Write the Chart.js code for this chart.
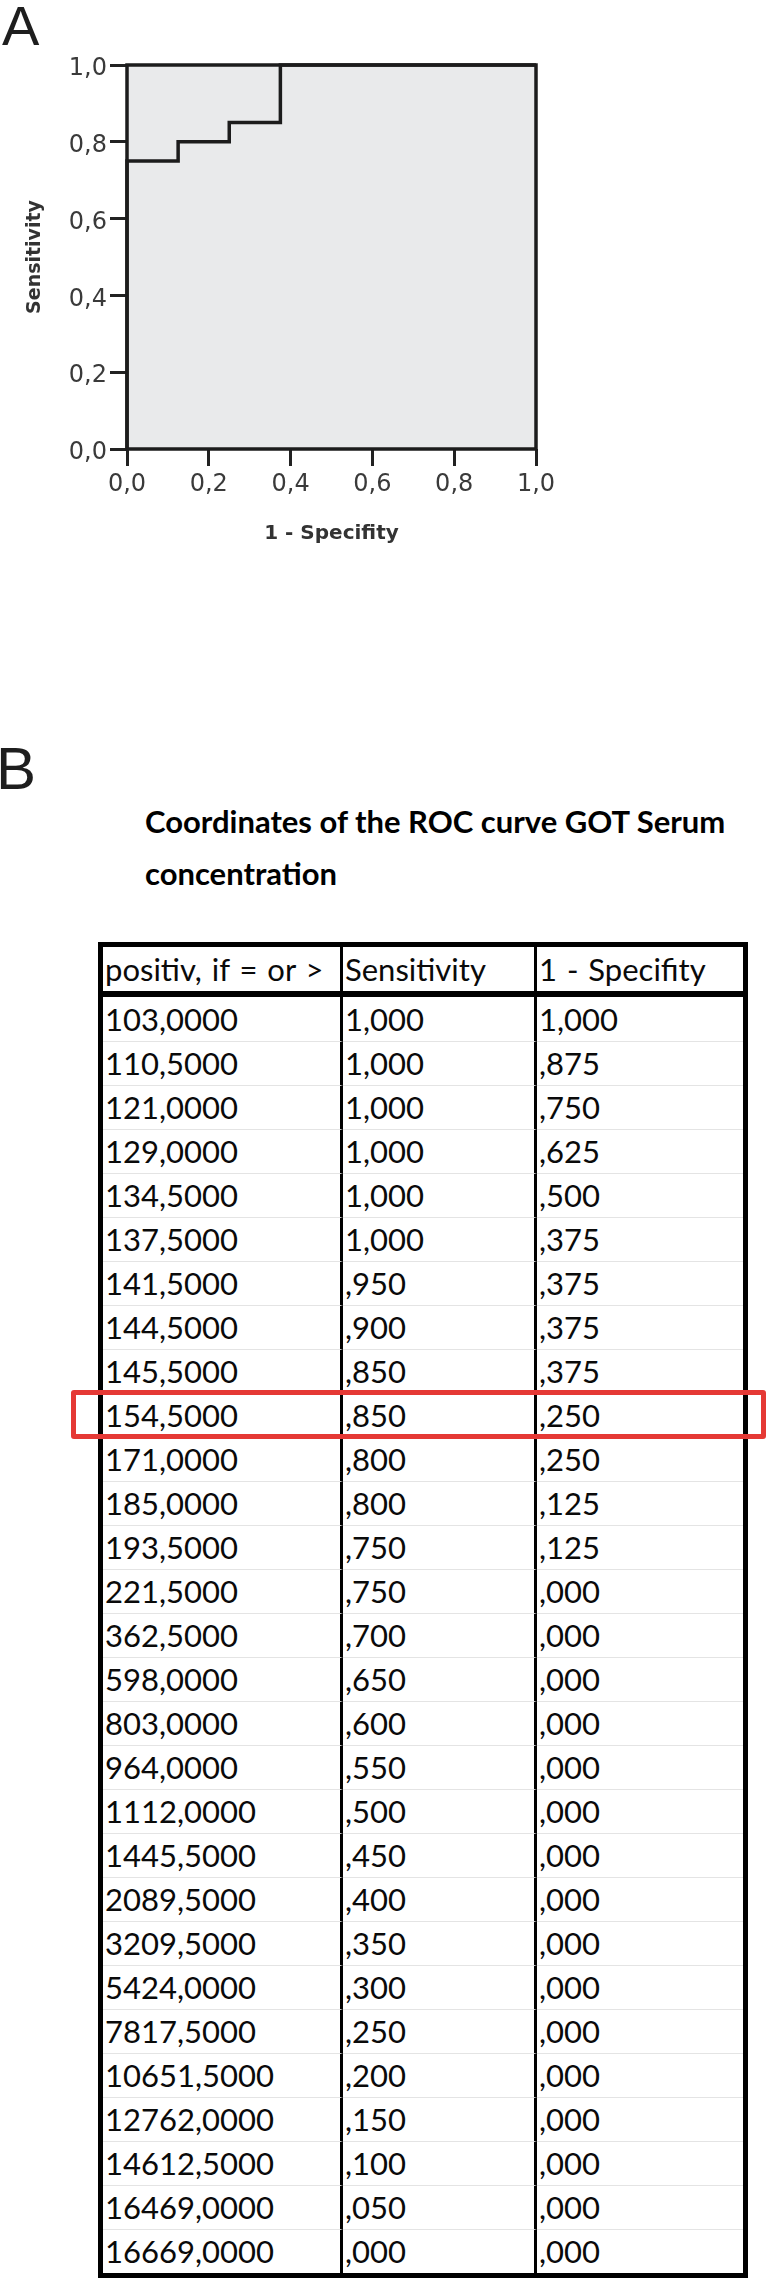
<!DOCTYPE html>
<html>
<head>
<meta charset="utf-8">
<script src="https://cdn.jsdelivr.net/npm/chart.js@4.4.1/dist/chart.umd.min.js"></script>
<style>
html,body{margin:0;padding:0;background:#fff;}
body{width:768px;height:2278px;position:relative;overflow:hidden;}
#chartA{position:absolute;left:0;top:0;}
.panel{position:absolute;font-family:"Liberation Sans",Arial,sans-serif;color:#1e1e1e;}
#title{position:absolute;left:145px;top:795px;font-family:Lato,"Open Sans",sans-serif;font-weight:700;font-size:31px;line-height:52px;color:#000;white-space:nowrap;}
#tbl{position:absolute;left:98px;top:942px;border-collapse:separate;border-spacing:0;
  border:5px solid #000;font-family:Lato,"Open Sans",sans-serif;font-size:31px;color:#0a0a0a;}
#tbl td,#tbl th{height:44px;padding:0 0 0 2px;line-height:44px;text-align:left;font-weight:400;white-space:nowrap;box-sizing:border-box;vertical-align:top;}
#tbl th{border-bottom:6px solid #000;height:50px;word-spacing:2px;}
#tbl tbody tr + tr td{border-top:1px solid #e4e4e4;line-height:43px;}
#tbl .c1{width:240px;border-right:3px solid #000;}
#tbl .c2{width:194px;border-right:3px solid #000;}
#tbl .c3{width:206px;}
#hl{position:absolute;border:5px solid #e53935;border-radius:3px;box-sizing:border-box;}
</style>
</head>
<body>
<canvas id="chartA" width="768" height="560"></canvas>
<div class="panel" style="left:2px;top:-2px;font-size:56px;line-height:56px;">A</div>
<div class="panel" style="left:-4px;top:739px;font-size:60px;line-height:60px;">B</div>
<div id="title">Coordinates of the ROC curve GOT Serum<br>concentration</div>
<table id="tbl"><thead><tr id="hdr"></tr></thead><tbody id="tb"></tbody></table>
<div id="hl"></div>
<script>
// ---- data ----
const columnHeaders = ["positiv, if = or >", "Sensitivity", "1 - Specifity"];
const thresholds = [103.0, 110.5, 121.0, 129.0, 134.5, 137.5, 141.5, 144.5, 145.5, 154.5,
  171.0, 185.0, 193.5, 221.5, 362.5, 598.0, 803.0, 964.0, 1112.0, 1445.5, 2089.5,
  3209.5, 5424.0, 7817.5, 10651.5, 12762.0, 14612.5, 16469.0, 16669.0];
const sensitivity = [1.000, 1.000, 1.000, 1.000, 1.000, 1.000, 0.950, 0.900, 0.850, 0.850,
  0.800, 0.800, 0.750, 0.750, 0.700, 0.650, 0.600, 0.550, 0.500, 0.450, 0.400,
  0.350, 0.300, 0.250, 0.200, 0.150, 0.100, 0.050, 0.000];
const oneMinusSpecificity = [1.000, 0.875, 0.750, 0.625, 0.500, 0.375, 0.375, 0.375, 0.375, 0.250,
  0.250, 0.125, 0.125, 0.000, 0.000, 0.000, 0.000, 0.000, 0.000, 0.000, 0.000,
  0.000, 0.000, 0.000, 0.000, 0.000, 0.000, 0.000, 0.000];
const axisTickValues = [0, 0.2, 0.4, 0.6, 0.8, 1.0];
const axisTickLabels = ["0,0", "0,2", "0,4", "0,6", "0,8", "1,0"];
const highlightRow = 9;

// ---- chart A ----
const framePlugin = {
  id: 'frame',
  beforeDraw(chart) {
    const {ctx, chartArea: a} = chart;
    ctx.save(); ctx.fillStyle = '#e9eaeb';
    ctx.fillRect(a.left, a.top, a.right - a.left, a.bottom - a.top);
    ctx.restore();
  },
  afterDatasetsDraw(chart) {
    const {ctx, chartArea: a} = chart;
    ctx.save(); ctx.strokeStyle = '#1c1c1c'; ctx.lineWidth = 3.5;
    ctx.strokeRect(a.left, a.top, a.right - a.left, a.bottom - a.top);
    ctx.restore();
  }
};
const tickFmt = v => { const i = axisTickValues.findIndex(t => Math.abs(t - v) < 1e-9); return i >= 0 ? axisTickLabels[i] : ''; };
const setTicks = s => { s.ticks = axisTickValues.map(v => ({value: v})); };
const tickFont = {family: '"DejaVu Sans"', size: 24};
const gridOpts = {drawOnChartArea: false, drawTicks: true, tickLength: 17, lineWidth: 3, color: '#222'};

new Chart(document.getElementById('chartA'), {
  type: 'scatter',
  data: {
    datasets: [{
      data: oneMinusSpecificity.map((x, i) => ({x: x, y: sensitivity[i]})),
      showLine: true, borderColor: '#1c1c1c', borderWidth: 3.5,
      pointRadius: 0, pointHoverRadius: 0, fill: false, tension: 0, clip: false
    }]
  },
  options: {
    responsive: false, animation: false, devicePixelRatio: 1,
    layout: {padding: {left: 24, top: 65, right: 232, bottom: 14}},
    plugins: {legend: {display: false}, tooltip: {enabled: false}},
    scales: {
      x: {
        type: 'linear', min: 0, max: 1,
        afterBuildTicks: setTicks,
        afterFit: s => { s.height = 97; },
        grid: gridOpts, border: {display: false},
        ticks: {callback: tickFmt, font: tickFont, color: '#3a3a3a', padding: 4, maxRotation: 0, autoSkip: false},
        title: {display: true, text: '1 - Specifity', font: {family: '"DejaVu Sans"', size: 20, weight: 'bold'}, color: '#333', padding: {top: 0, bottom: 0}}
      },
      y: {
        type: 'linear', min: 0, max: 1,
        afterBuildTicks: setTicks,
        afterFit: s => { s.width = 103; },
        grid: gridOpts, border: {display: false},
        ticks: {callback: tickFmt, font: tickFont, color: '#3a3a3a', padding: 3, labelOffset: 4, autoSkip: false},
        title: {display: true, text: 'Sensitivity', font: {family: '"DejaVu Sans"', size: 19, weight: 'bold'}, color: '#333', padding: {top: 0, bottom: 0}}
      }
    }
  },
  plugins: [framePlugin]
});

// ---- table B ----
const fmtThr = v => v.toFixed(4).replace('.', ',');
const fmtRate = v => { const s = v.toFixed(3).replace('.', ','); return s.startsWith('0,') ? s.slice(1) : s; };
const hdr = document.getElementById('hdr');
columnHeaders.forEach((h, i) => { const th = document.createElement('th'); th.className = 'c' + (i + 1); th.textContent = h; hdr.appendChild(th); });
const tb = document.getElementById('tb');
thresholds.forEach((t, i) => {
  const tr = document.createElement('tr');
  [fmtThr(t), fmtRate(sensitivity[i]), fmtRate(oneMinusSpecificity[i])].forEach((txt, j) => {
    const td = document.createElement('td'); td.className = 'c' + (j + 1); td.textContent = txt; tr.appendChild(td);
  });
  tb.appendChild(tr);
});
// highlight box around the chosen row
const row = tb.children[highlightRow].getBoundingClientRect();
const hl = document.getElementById('hl');
hl.style.left = '71px'; hl.style.width = '695px';
hl.style.top = (row.top - 3) + 'px'; hl.style.height = (row.height + 5) + 'px';
</script>
</body>
</html>
